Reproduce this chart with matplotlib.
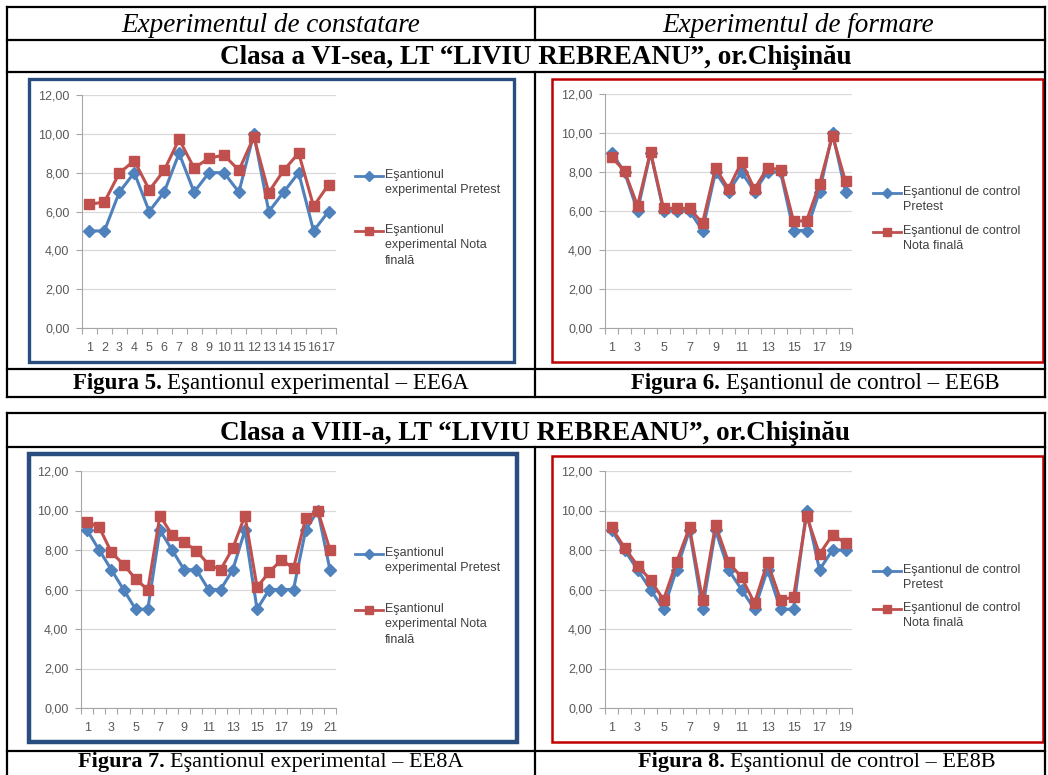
import numpy as np
import matplotlib.pyplot as plt
from matplotlib.patches import Rectangle
from matplotlib.lines import Line2D
from matplotlib.ticker import FixedLocator, FuncFormatter

W, H = 1048, 775

# values
ee6a_pretest = [5, 5, 7, 8, 6, 7, 9, 7, 8, 8, 7, 10, 6, 7, 8, 5, 6]
ee6a_final = [6.37, 6.49, 7.98, 8.62, 7.12, 8.12, 9.72, 8.24, 8.74, 8.91,
              8.12, 9.84, 6.97, 8.12, 9.01, 6.27, 7.38]

ee6b_pretest = [9, 8, 6, 9, 6, 6, 6, 5, 8, 7, 8, 7, 8, 8, 5, 5, 7, 10, 7]
ee6b_final = [8.77, 8.05, 6.27, 9.03, 6.14, 6.14, 6.14, 5.37, 8.22, 7.13,
              8.51, 7.13, 8.22, 8.12, 5.49, 5.49, 7.38, 9.86, 7.52]

ee8a_pretest = [9, 8, 7, 6, 5, 5, 9, 8, 7, 7, 6, 6, 7, 9, 5, 6, 6, 6, 9, 10, 7]
ee8a_final = [9.44, 9.15, 7.89, 7.26, 6.54, 5.98, 9.74, 8.76, 8.38, 7.97,
              7.26, 7.01, 8.09, 9.74, 6.12, 6.88, 7.50, 7.08, 9.61, 9.99, 8.01]

ee8b_pretest = [9, 8, 7, 6, 5, 7, 9, 5, 9, 7, 6, 5, 7, 5, 5, 10, 7, 8, 8]
ee8b_final = [9.14, 8.12, 7.21, 6.49, 5.48, 7.38, 9.15, 5.48, 9.27, 7.38,
              6.62, 5.31, 7.38, 5.48, 5.61, 9.74, 7.79, 8.76, 8.36]

exp_labels = ["Eşantionul\nexperimental Pretest", "Eşantionul\nexperimental Nota\nfinală"]
ctl_labels = ["Eşantionul de control\nPretest", "Eşantionul de control\nNota finală"]

BLUE = "#4F81BD"
RED = "#C0504D"
SERIF = "Liberation Serif"
SANS = "Liberation Sans"

fig = plt.figure(figsize=(W / 100, H / 100), dpi=100)
fig.patch.set_facecolor("white")
bg = fig.add_axes([0, 0, 1, 1])
bg.set_xlim(0, W)
bg.set_ylim(H, 0)
bg.axis("off")


def hline(y, x0=7, x1=1045):
    bg.plot([x0, x1], [y, y], color="black", lw=1.6, solid_capstyle="projecting")


def vline(x, y0, y1):
    bg.plot([x, x], [y0, y1], color="black", lw=1.6, solid_capstyle="projecting")


# table grid
for y in [7, 40, 72, 369, 397, 413, 447, 751]:
    hline(y)
vline(7, 7, 397)
vline(1045, 7, 397)
vline(535, 7, 40)
vline(535, 72, 397)
vline(7, 413, 790)
vline(1045, 413, 790)
vline(535, 447, 790)

# chart frames
bg.add_patch(Rectangle((29, 79), 485, 283, fill=False, ec="#2A4D7F", lw=2.4))
bg.add_patch(Rectangle((552, 79), 491, 283, fill=False, ec="#C00000", lw=1.8))
bg.add_patch(Rectangle((29, 454), 488, 288, fill=False, ec="#2A4D7F", lw=3.2))
bg.add_patch(Rectangle((552, 456), 491, 286, fill=False, ec="#C00000", lw=1.8))

# header texts
bg.text(271, 25, "Experimentul de constatare", ha="center", va="center",
        fontsize=19.5, style="italic", family=SERIF)
bg.text(798, 25, "Experimentul de formare", ha="center", va="center",
        fontsize=19.5, style="italic", family=SERIF)
bg.text(536, 57, "Clasa a VI-sea, LT “LIVIU REBREANU”, or.Chişinău", ha="center",
        va="center", fontsize=19.5, fontweight="bold", family=SERIF)
bg.text(535, 433, "Clasa a VIII-a, LT “LIVIU REBREANU”, or.Chişinău", ha="center",
        va="center", fontsize=19.5, fontweight="bold", family=SERIF)

renderer = fig.canvas.get_renderer()


def caption(xc, y, bold, rest, size=16.5):
    t1 = bg.text(0, y, bold, fontsize=size, fontweight="bold", family=SERIF,
                 va="center", ha="left")
    t2 = bg.text(0, y, rest, fontsize=size, family=SERIF, va="center", ha="left")
    w1 = t1.get_window_extent(renderer).width
    w2 = t2.get_window_extent(renderer).width
    gap = size * 0.35
    x0 = xc - (w1 + gap + w2) / 2
    t1.set_x(x0)
    t2.set_x(x0 + w1 + gap)


caption(271, 384, "Figura 5.", "Eşantionul experimental – EE6A")
caption(815, 384, "Figura 6.", "Eşantionul de control – EE6B")
caption(271, 762, "Figura 7.", "Eşantionul experimental – EE8A", size=16)
caption(817, 762, "Figura 8.", "Eşantionul de control – EE8B", size=16)


def px_box(x0, y0, x1, y1):
    return [x0 / W, 1 - y1 / H, (x1 - x0) / W, (y1 - y0) / H]


def legend_entry(x, y, color, marker, ms, label):
    # Excel puts the key next to the first line of a wrapped label
    bg.add_line(Line2D([x, x + 14, x + 28], [y, y, y], color=color, lw=2.0,
                       marker=marker, ms=ms, markevery=[1]))
    bg.text(x + 30, y - 7, label, va="top", ha="left", fontsize=9, family=SANS,
            color="#404040", linespacing=1.38)


def chart(box, pre, fin, labels, step, leg_x, leg_y):
    ax = fig.add_axes(px_box(*box))
    ax.set_facecolor("none")
    n = len(pre)
    x = np.arange(1, n + 1)
    ax.set_ylim(0, 12)
    ax.set_xlim(0.5, n + 0.5)
    ax.yaxis.grid(True, color="#D9D9D9", lw=0.9)
    ax.set_axisbelow(True)
    ax.plot(x, pre, color=BLUE, lw=2.2, marker="D", ms=6.5, zorder=3)
    ax.plot(x, fin, color=RED, lw=2.2, marker="s", ms=7.5, zorder=4)

    ax.set_yticks(np.arange(0, 13, 2))
    ax.yaxis.set_major_formatter(FuncFormatter(lambda v, p: f"{v:.2f}".replace(".", ",")))
    ax.set_xticks(x[::step])
    ax.set_xticklabels([str(v) for v in x[::step]])
    ax.xaxis.set_minor_locator(FixedLocator(np.arange(0.5, n + 1, 1)))
    ax.tick_params(axis="x", which="major", length=0, pad=10)
    ax.tick_params(axis="x", which="minor", length=4, color="#A6A6A6", width=0.8)
    ax.tick_params(axis="y", length=4, color="#A6A6A6", width=0.8, pad=5)
    ax.tick_params(labelsize=9, labelcolor="#595959")
    for lab in ax.get_xticklabels() + ax.get_yticklabels():
        lab.set_family(SANS)
    for s in ["top", "right"]:
        ax.spines[s].set_visible(False)
    for s in ["left", "bottom"]:
        ax.spines[s].set_color("#A6A6A6")
        ax.spines[s].set_linewidth(0.8)

    legend_entry(leg_x, leg_y[0], BLUE, "D", 5, labels[0])
    legend_entry(leg_x, leg_y[1], RED, "s", 6, labels[1])
    return ax


chart((82, 95, 336, 328), ee6a_pretest, ee6a_final, exp_labels, 1, 355, (176, 231))
chart((605, 94, 852, 328), ee6b_pretest, ee6b_final, ctl_labels, 2, 873, (193, 232))
chart((81, 471, 336, 708), ee8a_pretest, ee8a_final, exp_labels, 2, 355, (554, 610))
chart((605, 471, 852, 708), ee8b_pretest, ee8b_final, ctl_labels, 2, 873, (571, 609))

fig.savefig("out.png", dpi=100, facecolor="white")
